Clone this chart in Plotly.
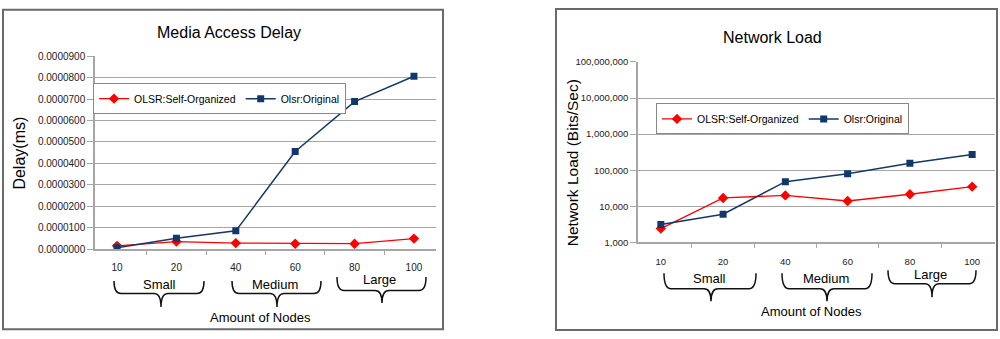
import plotly.graph_objects as go

# ---------------- data ----------------
nodes = ["10", "20", "40", "60", "80", "100"]
groups = ["Small", "Medium", "Large"]
series_names = ["OLSR:Self-Organized", "Olsr:Original"]

delay_self = [0.0000015, 0.0000035, 0.0000028, 0.0000025, 0.0000025, 0.0000049]
delay_orig = [0.0000006, 0.0000051, 0.0000085, 0.0000455, 0.0000688, 0.0000806]

load_self = [2400, 17000, 20000, 14000, 21500, 35000]
load_orig = [3100, 6000, 48000, 80000, 155000, 270000]

# ---------------- layout helpers ----------------
W, H = 1000, 339
FONT = "Liberation Sans, Arial, sans-serif"
RED = "#FF0000"
BLUE = "#12386B"
GRID = "#A6A6A6"


def px(x):
    return x / W


def py(y):
    return 1 - y / H


fig = go.Figure()

# left chart traces
fig.add_trace(go.Scatter(x=nodes, y=delay_self, name=series_names[0], mode="lines+markers",
                         line=dict(color=RED, width=1.3),
                         marker=dict(symbol="diamond", size=8, color=RED),
                         xaxis="x", yaxis="y", legend="legend"))
fig.add_trace(go.Scatter(x=nodes, y=delay_orig, name=series_names[1], mode="lines+markers",
                         line=dict(color=BLUE, width=1.5),
                         marker=dict(symbol="square", size=7, color=BLUE),
                         xaxis="x", yaxis="y", legend="legend"))
# right chart traces
fig.add_trace(go.Scatter(x=nodes, y=load_self, name=series_names[0], mode="lines+markers",
                         line=dict(color=RED, width=1.3),
                         marker=dict(symbol="diamond", size=8, color=RED),
                         xaxis="x2", yaxis="y2", legend="legend2"))
fig.add_trace(go.Scatter(x=nodes, y=load_orig, name=series_names[1], mode="lines+markers",
                         line=dict(color=BLUE, width=1.5),
                         marker=dict(symbol="square", size=7, color=BLUE),
                         xaxis="x2", yaxis="y2", legend="legend2"))

xcommon = dict(type="category", tickson="boundaries", ticks="outside", ticklen=4,
               tickcolor=GRID, showline=True, linecolor=GRID, linewidth=1.5,
               showgrid=False, zeroline=False, fixedrange=True)

fig.update_layout(
    width=W, height=H, autosize=False,
    margin=dict(l=0, r=0, t=0, b=0),
    paper_bgcolor="white", plot_bgcolor="white",
    font=dict(family=FONT, color="#000"),
    xaxis=dict(domain=[px(95), px(436)], anchor="y", ticklabelstandoff=8,
               tickfont=dict(family=FONT, size=10, color="#222"), **xcommon),
    yaxis=dict(domain=[py(252), py(52)], anchor="x", range=[0, 0.00009], dtick=0.00001,
               tickformat=".7f", ticks="outside", ticklen=6, tickcolor=GRID,
               showline=True, linecolor=GRID, linewidth=1.5, fixedrange=True,
               showgrid=True, gridcolor=GRID, gridwidth=1.2, zeroline=False,
               tickfont=dict(family=FONT, size=10, color="#222")),
    xaxis2=dict(domain=[px(638), px(995)], anchor="y2", ticklabelstandoff=10,
                tickfont=dict(family=FONT, size=9.5, color="#222"), **xcommon),
    yaxis2=dict(domain=[py(245), py(58)], anchor="x2", type="log", range=[3, 8],
                tickvals=[1e3, 1e4, 1e5, 1e6, 1e7, 1e8], tickformat=",d",
                ticks="outside", ticklen=6, tickcolor=GRID, fixedrange=True,
                showline=True, linecolor=GRID, linewidth=1.5,
                showgrid=True, gridcolor=GRID, gridwidth=1.2, zeroline=False,
                tickfont=dict(family=FONT, size=9.5, color="#222")),
    legend=dict(x=px(93), y=py(80), xanchor="left", yanchor="top", orientation="h",
                bordercolor="#888", borderwidth=1, bgcolor="white",
                font=dict(family=FONT, size=10.5, color="#000")),
    legend2=dict(x=px(656), y=py(101), xanchor="left", yanchor="top", orientation="h",
                 bordercolor="#888", borderwidth=1, bgcolor="white",
                 font=dict(family=FONT, size=10.5, color="#000")),
    showlegend=True,
)

annotations = []
shapes = []


def text(x, y, s, size, angle=0):
    annotations.append(dict(x=px(x), y=py(y), xref="paper", yref="paper", text=s,
                            showarrow=False, textangle=angle, xanchor="center", yanchor="middle",
                            font=dict(family=FONT, size=size, color="#000")))


def brace(x0, x1, xm, yt, yh, yb, r=7):
    pts = lambda x, y: f"{px(x):.5f},{py(y):.5f}"
    path = (f"M {pts(x0, yt)} Q {pts(x0, yh)} {pts(x0 + r, yh)} "
            f"L {pts(xm - r, yh)} Q {pts(xm, yh)} {pts(xm, yb)} "
            f"Q {pts(xm, yh)} {pts(xm + r, yh)} "
            f"L {pts(x1 - r, yh)} Q {pts(x1, yh)} {pts(x1, yt)}")
    shapes.append(dict(type="path", xref="paper", yref="paper", path=path,
                       line=dict(color="#111", width=1.5)))


# chart borders
shapes.append(dict(type="rect", xref="paper", yref="paper", x0=px(3), x1=px(443), y0=py(335), y1=py(4),
                   line=dict(color="#6A6A6A", width=2)))
shapes.append(dict(type="rect", xref="paper", yref="paper", x0=px(556), x1=px(997), y0=py(336), y1=py(3),
                   line=dict(color="#6A6A6A", width=2)))

# left chart texts
text(229, 27, "Media Access Delay", 16)
text(20, 153, "Delay(ms)", 16, -90)
text(260, 323, "Amount of Nodes", 13)
brace(114, 204, 161, 285, 298, 312)
brace(232, 321, 277, 285, 298, 312)
brace(337, 426, 382, 281, 295, 308)
text(159, 289, groups[0], 13)
text(275, 289, groups[1], 13)
text(379, 284, groups[2], 13)

# right chart texts
text(772, 33, "Network Load", 16)
text(572, 163, "Network Load (Bits/Sec)", 15.5, -90)
text(811, 317, "Amount of Nodes", 13)
brace(664, 756, 711, 277, 293, 306)
brace(782, 872, 827, 277, 293, 306)
brace(888, 976, 932, 274, 288, 302)
text(709, 283, groups[0], 13)
text(826, 283, groups[1], 13)
text(930, 278, groups[2], 13)

fig.update_layout(annotations=annotations, shapes=shapes)

fig.write_html("out.html", config={"displayModeBar": False},
               post_script="document.body.style.margin='0';document.body.style.overflow='hidden';")
